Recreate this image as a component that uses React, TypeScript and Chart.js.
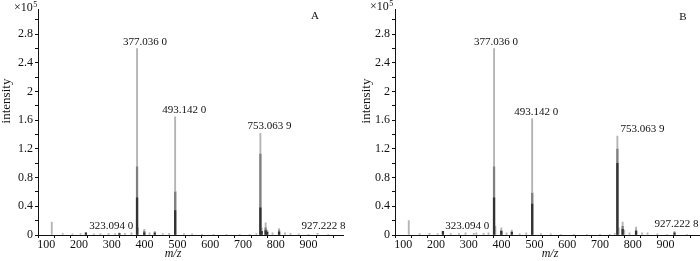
import React, { useEffect, useRef } from "react";
import { Chart, registerables } from "chart.js";

Chart.register(...registerables);

// ---------- axis ticks ----------
const xMajorTicks = [100, 200, 300, 400, 500, 600, 700, 800, 900];
const xMinorTicks = [150, 250, 350, 450, 550, 650, 750, 850, 950, 1000];
const yMajorTicks = [0, 0.4, 0.8, 1.2, 1.6, 2, 2.4, 2.8];
const yMinorTicks = [0.2, 0.6, 1.0, 1.4, 1.8, 2.2, 2.6, 3.0];

// ---------- panel A (intensity in units of 10^5) ----------
const mzLightA = [117.0, 150.3, 180.1, 205.0, 221.1, 245.2, 265.0, 290.1, 310.2, 323.094, 340.0, 360.1, 377.036, 380.2, 399.1, 415.0, 431.1, 455.2, 475.1, 493.142, 494.1, 520.0, 545.1, 575.0, 610.2, 650.0, 690.1, 720.0, 741.0, 753.064, 757.1, 769.1, 774.0, 790.1, 810.1, 828.0, 845.1, 870.0, 900.0, 927.223, 960.0];
const intLightA = [0.18, 0.02, 0.015, 0.02, 0.03, 0.015, 0.02, 0.025, 0.02, 0.03, 0.025, 0.03, 2.6, 0.1, 0.08, 0.03, 0.05, 0.02, 0.025, 1.65, 0.61, 0.02, 0.015, 0.01, 0.01, 0.01, 0.01, 0.01, 0.02, 1.42, 0.1, 0.17, 0.07, 0.03, 0.09, 0.03, 0.025, 0.015, 0.01, 0.025, 0.01];
const mzMidA = [377.036, 399.1, 493.142, 753.064, 769.1, 810.1];
const intMidA = [0.95, 0.05, 0.6, 1.13, 0.1, 0.06];
const mzDarkA = [221.1, 323.094, 377.036, 399.1, 431.1, 493.142, 753.064, 757.1, 769.1, 774.0, 810.1];
const intDarkA = [0.03, 0.02, 0.52, 0.03, 0.03, 0.34, 0.38, 0.05, 0.06, 0.04, 0.04];

// ---------- panel B ----------
const mzLightB = [117.0, 150.3, 180.1, 205.0, 221.1, 245.2, 270.0, 290.1, 315.2, 323.094, 345.0, 360.1, 377.036, 381.0, 399.1, 415.0, 431.1, 455.2, 475.1, 493.142, 494.1, 520.0, 550.0, 580.0, 620.0, 660.0, 700.0, 730.0, 745.0, 753.064, 757.1, 769.1, 774.0, 790.1, 810.1, 828.0, 845.1, 875.0, 905.0, 927.223, 965.0];
const intLightB = [0.2, 0.02, 0.025, 0.02, 0.05, 0.02, 0.02, 0.03, 0.025, 0.03, 0.025, 0.03, 2.6, 0.12, 0.1, 0.03, 0.07, 0.02, 0.03, 1.62, 0.6, 0.02, 0.015, 0.01, 0.01, 0.01, 0.01, 0.01, 0.02, 1.38, 0.1, 0.18, 0.07, 0.03, 0.11, 0.03, 0.03, 0.015, 0.01, 0.05, 0.01];
const mzMidB = [377.036, 399.1, 493.142, 753.064, 769.1, 810.1];
const intMidB = [0.95, 0.06, 0.58, 1.2, 0.12, 0.07];
const mzDarkB = [221.1, 377.036, 399.1, 431.1, 493.142, 753.064, 769.1, 810.1, 927.223];
const intDarkB = [0.05, 0.52, 0.05, 0.04, 0.43, 1.0, 0.08, 0.05, 0.03];

// ---------- peak annotations ----------
const peakLabelMz = [377.036, 493.142, 753.0639, 323.094, 927.2228];
const peakLabelText = ["377.036 0", "493.142 0", "753.063 9", "323.094 0", "927.222 8"];
const peakLabelIntA = [2.6, 1.65, 1.42, 0.03, 0.025];
const peakLabelIntB = [2.6, 1.62, 1.38, 0.03, 0.05];

const X_MIN = 75;
const X_MAX = 1005;
const Y_MAX = 3.15;

const SERIF = '"Liberation Serif", "DejaVu Serif", serif';

type PanelCfg = {
  letter: string;
  light: { mz: number[]; v: number[] };
  mid: { mz: number[]; v: number[] };
  dark: { mz: number[]; v: number[] };
  labelInt: number[];
  labelDx: number[];
  padLeft: number;
  padRight: number;
  yWidth: number;
  yTitleX: number;
  yTitleY: number;
  xTitleX: number;
  xTitleY: number;
  expX: number;
  expY: number;
  letterX: number;
  letterY: number;
};

const pts = (mz: number[], v: number[]) => mz.map((x, i) => ({ x, y: v[i] }));

function makeTextPlugin(cfg: PanelCfg) {
  return {
    id: "msText" + cfg.letter,
    afterDraw(chart: any) {
      const { ctx } = chart;
      const xs = chart.scales.x;
      const ys = chart.scales.y;
      ctx.save();
      ctx.fillStyle = "#111";
      ctx.textAlign = "center";
      ctx.textBaseline = "middle";
      ctx.font = "11px " + SERIF;
      peakLabelMz.forEach((mz, i) => {
        const px = xs.getPixelForValue(mz) + cfg.labelDx[i];
        const py = ys.getPixelForValue(cfg.labelInt[i]) - 7;
        ctx.fillText(peakLabelText[i], px, py);
      });
      // y title
      ctx.save();
      ctx.translate(cfg.yTitleX, cfg.yTitleY);
      ctx.rotate(-Math.PI / 2);
      ctx.font = "13px " + SERIF;
      ctx.fillText("intensity", 0, 0);
      ctx.restore();
      // x title
      ctx.font = "italic 12px " + SERIF;
      ctx.fillText("m/z", cfg.xTitleX, cfg.xTitleY);
      // exponent
      ctx.textAlign = "left";
      ctx.font = "12px " + SERIF;
      ctx.fillText("×10", cfg.expX, cfg.expY);
      const w = ctx.measureText("×10").width;
      ctx.font = "8px " + SERIF;
      ctx.fillText("5", cfg.expX + w + 0.5, cfg.expY - 3);
      // panel letter
      ctx.textAlign = "center";
      ctx.font = "11px " + SERIF;
      ctx.fillText(cfg.letter, cfg.letterX, cfg.letterY);
      ctx.restore();
    },
  };
}

function Panel({ cfg, left }: { cfg: PanelCfg; left: number }) {
  const ref = useRef<HTMLCanvasElement | null>(null);
  useEffect(() => {
    if (!ref.current) return;
    const chart = new Chart(ref.current, {
      type: "bar",
      data: {
        datasets: [
          {
            data: pts(cfg.dark.mz, cfg.dark.v),
            backgroundColor: "#333333",
            barThickness: 1.6,
            grouped: false,
            order: 1,
          } as any,
          {
            data: pts(cfg.mid.mz, cfg.mid.v),
            backgroundColor: "#808080",
            barThickness: 1.6,
            grouped: false,
            order: 2,
          } as any,
          {
            data: pts(cfg.light.mz, cfg.light.v),
            backgroundColor: "#b4b4b4",
            barThickness: 1.2,
            grouped: false,
            order: 3,
          } as any,
        ],
      },
      options: {
        animation: false,
        responsive: false,
        devicePixelRatio: 1,
        layout: { padding: { left: cfg.padLeft, right: cfg.padRight, top: 3, bottom: 0 } },
        plugins: { legend: { display: false }, tooltip: { enabled: false } },
        scales: {
          x: {
            type: "linear",
            min: X_MIN,
            max: X_MAX,
            offset: false,
            afterBuildTicks: (s: any) => {
              s.ticks = [...xMajorTicks, ...xMinorTicks].sort((a, b) => a - b).map((v) => ({ value: v }));
            },
            afterFit: (s: any) => {
              s.height = 26;
            },
            grid: { display: true, drawOnChartArea: false, drawTicks: true, tickLength: 3, color: "#111", tickColor: "#111" },
            border: { display: true, color: "#111", width: 1 },
            ticks: {
              autoSkip: false,
              maxRotation: 0,
              padding: 0,
              color: "#111",
              font: { family: SERIF, size: 12 },
              callback: (v: any) => (xMajorTicks.includes(Number(v)) ? String(v) : ""),
            },
          },
          y: {
            type: "linear",
            min: 0,
            max: Y_MAX,
            afterBuildTicks: (s: any) => {
              s.ticks = [...yMajorTicks, ...yMinorTicks].sort((a, b) => a - b).map((v) => ({ value: v }));
            },
            afterFit: (s: any) => {
              s.width = cfg.yWidth;
            },
            grid: { display: true, drawOnChartArea: false, drawTicks: true, tickLength: 3, color: "#111", tickColor: "#111" },
            border: { display: true, color: "#111", width: 1 },
            ticks: {
              autoSkip: false,
              padding: 2,
              color: "#111",
              font: { family: SERIF, size: 12 },
              callback: (v: any) => {
                const n = Number(v);
                const major = yMajorTicks.some((t) => Math.abs(t - n) < 1e-6);
                if (!major) return "";
                return Number.isInteger(n) ? String(n) : n.toFixed(1);
              },
            },
          },
        },
      },
      plugins: [makeTextPlugin(cfg)],
    } as any);
    return () => chart.destroy();
  }, [cfg]);
  return (
    <canvas
      ref={ref}
      width={350}
      height={261}
      style={{ position: "absolute", left, top: 0, width: 350, height: 261, display: "block" }}
    />
  );
}

const cfgA: PanelCfg = {
  letter: "A",
  light: { mz: mzLightA, v: intLightA },
  mid: { mz: mzMidA, v: intMidA },
  dark: { mz: mzDarkA, v: intDarkA },
  labelInt: peakLabelIntA,
  labelDx: [8, 9, 9, -8, 6],
  padLeft: 0,
  padRight: 7,
  yWidth: 38,
  yTitleX: 7,
  yTitleY: 101,
  xTitleX: 173,
  xTitleY: 254,
  expX: 14,
  expY: 8,
  letterX: 315,
  letterY: 16,
};

const cfgB: PanelCfg = {
  letter: "B",
  light: { mz: mzLightB, v: intLightB },
  mid: { mz: mzMidB, v: intMidB },
  dark: { mz: mzDarkB, v: intDarkB },
  labelInt: peakLabelIntB,
  labelDx: [2, 4, 25, -9, 2],
  padLeft: 16,
  padRight: 0,
  yWidth: 29,
  yTitleX: 17,
  yTitleY: 101,
  xTitleX: 200,
  xTitleY: 254,
  expX: 20,
  expY: 7,
  letterX: 333,
  letterY: 17,
};

export default function App() {
  return (
    <div
      style={{
        position: "fixed",
        left: 0,
        top: 0,
        width: 700,
        height: 261,
        background: "#fff",
        overflow: "hidden",
      }}
    >
      <Panel cfg={cfgA} left={0} />
      <Panel cfg={cfgB} left={350} />
    </div>
  );
}
